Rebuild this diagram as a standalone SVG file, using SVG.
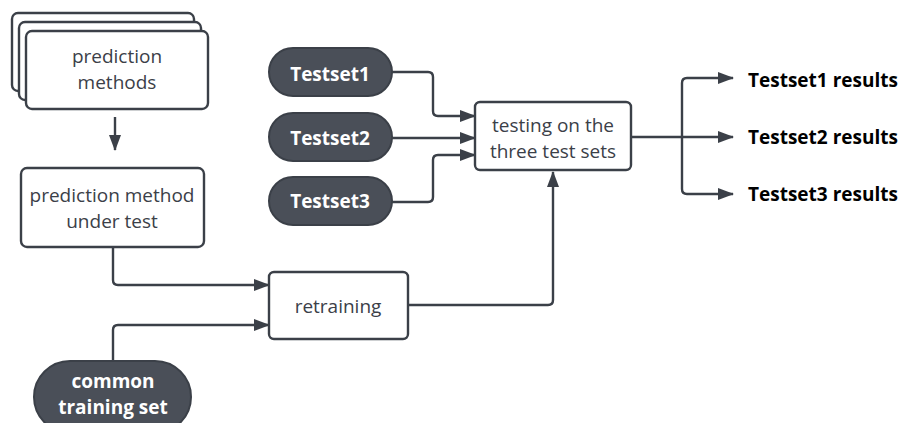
<svg xmlns="http://www.w3.org/2000/svg" width="899" height="423" viewBox="0 0 899 423">
  <style>
    .box { fill: #ffffff; stroke: #3b4048; stroke-width: 2.4; }
    .pill { fill: #4a4f58; stroke: #3b4048; stroke-width: 2; }
    .lbl { font-family: "Open Sans", "Noto Sans", sans-serif; font-size: 19px; fill: #3b4048; text-anchor: middle; }
    .pl { font-family: "Open Sans", "Noto Sans", sans-serif; font-size: 19px; font-weight: bold; fill: #ffffff; text-anchor: middle; }
    .res { font-family: "Open Sans", "Noto Sans", sans-serif; font-size: 19px; font-weight: bold; fill: #000000; }
    .wire { fill: none; stroke: #3b4048; stroke-width: 2.4; stroke-linejoin: round; }
  </style>
  <defs>
    <marker id="arrow" viewBox="0 0 16 12" refX="15" refY="6" markerWidth="16" markerHeight="12" markerUnits="userSpaceOnUse" orient="auto">
      <path d="M0,0 L16,6 L0,12 Z" fill="#3b4048"/>
    </marker>
  </defs>

  <rect width="899" height="423" fill="#ffffff"/>

  <g id="connectors">
    <path class="wire" d="M115,117 V150" marker-end="url(#arrow)"/>
    <path class="wire" d="M113,247 V280 Q113,285 118,285 H269" marker-end="url(#arrow)"/>
    <path class="wire" d="M113,361 V330 Q113,325 118,325 H269" marker-end="url(#arrow)"/>
    <path class="wire" d="M408,305 H548 Q553,305 553,300 V172" marker-end="url(#arrow)"/>
    <path class="wire" d="M392,72 H428 Q433,72 433,77 V111 Q433,116 438,116 H475" marker-end="url(#arrow)"/>
    <path class="wire" d="M392,138 H475" marker-end="url(#arrow)"/>
    <path class="wire" d="M392,202 H428 Q433,202 433,197 V160 Q433,155 438,155 H475" marker-end="url(#arrow)"/>
    <path class="wire" d="M631,137 H733" marker-end="url(#arrow)"/>
    <path class="wire" d="M682,137 V83 Q682,78 687,78 H733" marker-end="url(#arrow)"/>
    <path class="wire" d="M682,137 V189 Q682,194 687,194 H733" marker-end="url(#arrow)"/>
  </g>

  <g id="prediction-methods">
    <rect class="box" x="12" y="13" width="182" height="78" rx="6"/>
    <rect class="box" x="19" y="22" width="182" height="78" rx="6"/>
    <rect class="box" x="26" y="31" width="182" height="78" rx="6"/>
    <text class="lbl" x="117" y="63">prediction</text>
    <text class="lbl" x="117" y="89">methods</text>
  </g>

  <g id="method-under-test">
    <rect class="box" x="21" y="168" width="183" height="79" rx="6"/>
    <text class="lbl" x="112" y="202">prediction method</text>
    <text class="lbl" x="112" y="228">under test</text>
  </g>

  <g id="retraining">
    <rect class="box" x="269" y="272" width="139" height="67" rx="5"/>
    <text class="lbl" x="338" y="313">retraining</text>
  </g>

  <g id="common-training-set">
    <rect class="pill" x="34" y="361" width="157" height="72" rx="36"/>
    <text class="pl" x="113" y="388">common</text>
    <text class="pl" x="113" y="414">training set</text>
  </g>

  <g id="testset1">
    <rect class="pill" x="269" y="48" width="123" height="48" rx="24"/>
    <text class="pl" x="330" y="81">Testset1</text>
  </g>
  <g id="testset2">
    <rect class="pill" x="269" y="113" width="123" height="48" rx="24"/>
    <text class="pl" x="330" y="145">Testset2</text>
  </g>
  <g id="testset3">
    <rect class="pill" x="269" y="177" width="123" height="48" rx="24"/>
    <text class="pl" x="330" y="208">Testset3</text>
  </g>

  <g id="testing">
    <rect class="box" x="475" y="102" width="156" height="68" rx="5"/>
    <text class="lbl" x="553" y="132">testing on the</text>
    <text class="lbl" x="553" y="158">three test sets</text>
  </g>

  <g id="results">
    <text class="res" x="748" y="87">Testset1 results</text>
    <text class="res" x="748" y="144">Testset2 results</text>
    <text class="res" x="748" y="201">Testset3 results</text>
  </g>
</svg>
